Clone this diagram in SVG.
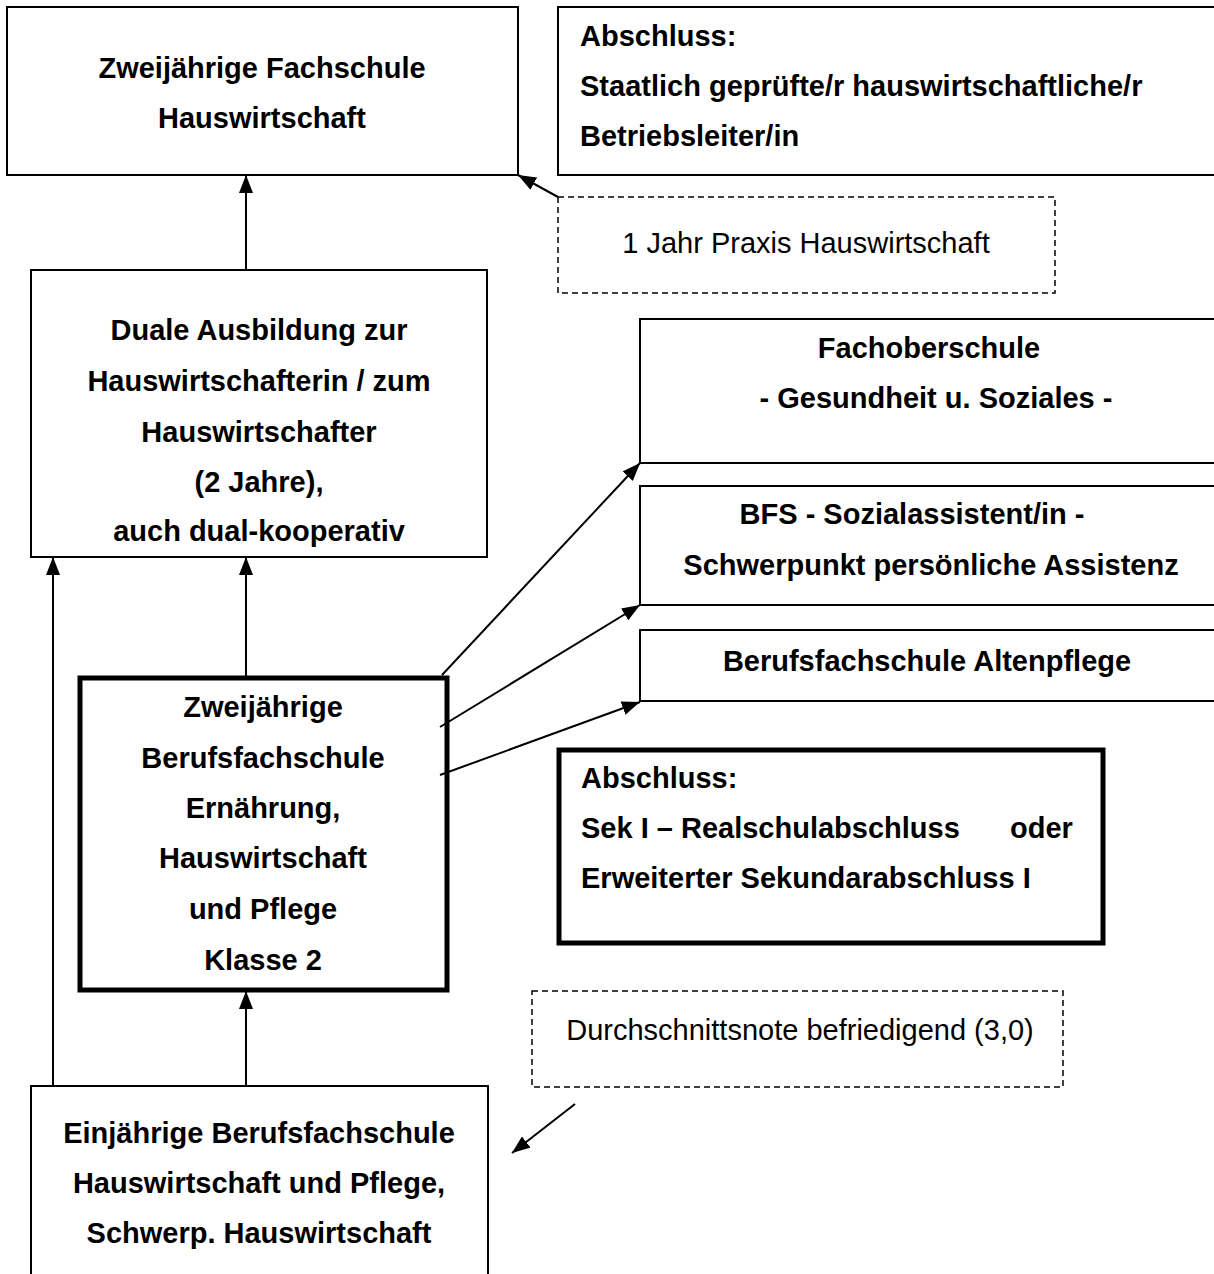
<svg xmlns="http://www.w3.org/2000/svg" width="1214" height="1274" viewBox="0 0 1214 1274">
<defs>
<marker id="arr" viewBox="0 0 18 14" refX="18" refY="7" markerWidth="18" markerHeight="14" markerUnits="userSpaceOnUse" orient="auto">
<path d="M0,0 L18,7 L0,14 z" fill="#000"/>
</marker>
<style>
.box{fill:#fff;stroke:#000;stroke-width:2}
.bold{fill:#fff;stroke:#000;stroke-width:5}
.dash{fill:#fff;stroke:#000;stroke-width:1.5;stroke-dasharray:6 4}
.t{font-family:"Liberation Sans",Arial,sans-serif;font-size:29px;font-weight:bold;fill:#000}
.r{font-family:"Liberation Sans",Arial,sans-serif;font-size:29px;fill:#000}
.c{text-anchor:middle}
.con{stroke:#000;stroke-width:2;fill:none;marker-end:url(#arr)}
</style>
</defs>
<rect width="1214" height="1274" fill="#fff"/>

<g id="fachschule">
<rect class="box" x="7" y="7" width="511" height="168"/>
<text class="t c" x="262" y="78">Zweijährige Fachschule</text>
<text class="t c" x="262" y="128">Hauswirtschaft</text>
</g>

<g id="abschluss-top">
<rect class="box" x="558" y="7" width="670" height="168"/>
<text class="t" x="580" y="46">Abschluss:</text>
<text class="t" x="580" y="96">Staatlich geprüfte/r hauswirtschaftliche/r</text>
<text class="t" x="580" y="146">Betriebsleiter/in</text>
</g>

<g id="praxis">
<rect class="dash" x="558" y="197" width="497" height="96"/>
<text class="r c" x="806" y="253">1 Jahr Praxis Hauswirtschaft</text>
</g>

<g id="duale">
<rect class="box" x="31" y="270" width="456" height="287"/>
<text class="t c" x="259" y="340">Duale Ausbildung zur</text>
<text class="t c" x="259" y="391">Hauswirtschafterin / zum</text>
<text class="t c" x="259" y="442">Hauswirtschafter</text>
<text class="t c" x="259" y="492">(2 Jahre),</text>
<text class="t c" x="259" y="541">auch dual-kooperativ</text>
</g>

<g id="fos">
<rect class="box" x="640" y="319" width="590" height="144"/>
<text class="t c" x="929" y="358">Fachoberschule</text>
<text class="t c" x="936" y="408">- Gesundheit u. Soziales -</text>
</g>

<g id="bfs-sozial">
<rect class="box" x="640" y="486" width="590" height="119"/>
<text class="t c" x="912" y="524">BFS - Sozialassistent/in -</text>
<text class="t c" x="931" y="575">Schwerpunkt persönliche Assistenz</text>
</g>

<g id="altenpflege">
<rect class="box" x="640" y="630" width="590" height="71"/>
<text class="t c" x="927" y="671">Berufsfachschule Altenpflege</text>
</g>

<g id="bfs-zwei">
<rect class="bold" x="80" y="678" width="367" height="312"/>
<text class="t c" x="263" y="717">Zweijährige</text>
<text class="t c" x="263" y="768">Berufsfachschule</text>
<text class="t c" x="263" y="818">Ernährung,</text>
<text class="t c" x="263" y="868">Hauswirtschaft</text>
<text class="t c" x="263" y="919">und Pflege</text>
<text class="t c" x="263" y="970">Klasse 2</text>
</g>

<g id="abschluss-sek">
<rect class="bold" x="559" y="750" width="544" height="193"/>
<text class="t" x="581" y="788">Abschluss:</text>
<text class="t" x="581" y="838">Sek I – Realschulabschluss<tspan x="1010">oder</tspan></text>
<text class="t" x="581" y="888">Erweiterter Sekundarabschluss I</text>
</g>

<g id="note">
<rect class="dash" x="532" y="991" width="531" height="96"/>
<text class="r c" x="800" y="1040">Durchschnittsnote befriedigend (3,0)</text>
</g>

<g id="bfs-ein">
<rect class="box" x="31" y="1086" width="457" height="200"/>
<text class="t c" x="259" y="1143">Einjährige Berufsfachschule</text>
<text class="t c" x="259" y="1193">Hauswirtschaft und Pflege,</text>
<text class="t c" x="259" y="1243">Schwerp. Hauswirtschaft</text>
</g>

<g id="connectors">
<line class="con" x1="246" y1="270" x2="246" y2="175"/>
<line class="con" x1="558" y1="197" x2="518" y2="175"/>
<line class="con" x1="246" y1="678" x2="246" y2="557"/>
<line class="con" x1="53" y1="1086" x2="53" y2="557"/>
<line class="con" x1="246" y1="1086" x2="246" y2="991"/>
<line class="con" x1="442" y1="675" x2="640" y2="463"/>
<line class="con" x1="440" y1="727" x2="640" y2="605"/>
<line class="con" x1="440" y1="775" x2="640" y2="702"/>
<line class="con" x1="575" y1="1104" x2="512" y2="1153"/>
</g>
</svg>
